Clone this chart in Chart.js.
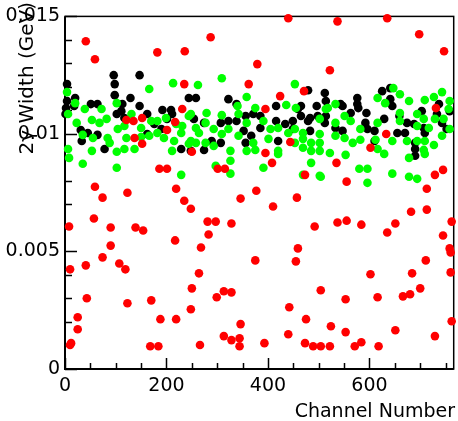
<!DOCTYPE html>
<html>
<head>
<meta charset="utf-8">
<script src="https://cdn.jsdelivr.net/npm/chart.js@4.4.1/dist/chart.umd.min.js"></script>
<style>
  html, body { margin: 0; padding: 0; background: #fff; }
  #wrap { width: 458px; height: 421px; }
</style>
</head>
<body>
<div id="wrap"><canvas id="widthChart" width="458" height="421"></canvas></div>
<script>
// Axis ranges and ticks
const xRange = [0, 766];
const yRange = [0, 0.015];
const xTickValues = [0, 200, 400, 600];
const xTickLabels = ['0', '200', '400', '600'];
const yTickValues = [0, 0.005, 0.01, 0.015];
const yTickLabels = ['0', '0.005', '0.01', '0.015'];

// Black points
const blackX = [4, 1, 20, 18, 96, 98, 98, 147, 51, 64, 113, 129, 147, 31, 33, 45, 64, 78, 111, 102,
  117, 162, 192, 209, 211, 176, 201, 244, 229, 248, 190, 162, 258, 322, 338, 416, 465, 479, 496, 254,
  274, 307, 322, 338, 356, 371, 385, 416, 434, 449, 465, 479, 356, 367, 385, 274, 289, 307, 352, 420,
  449, 483, 483, 459, 498, 512, 514, 514, 512, 547, 576, 576, 594, 563, 533, 547, 592, 596, 610, 610,
  625, 641, 641, 645, 629, 659, 655, 670, 674, 688, 703, 707, 709, 737, 743, 733, 690, 690, 690, 758,
  752, 543, 578, 4, 2];
const blackY = [0.01212, 0.01085, 0.01153, 0.01119, 0.01250, 0.01212, 0.01165, 0.01250, 0.01127, 0.01127,
  0.01127, 0.01153, 0.01119, 0.01017, 0.00970, 0.01004, 0.00996, 0.00936, 0.01097, 0.01085,
  0.01068, 0.01085, 0.01102, 0.01102, 0.01085, 0.01042, 0.01064, 0.01153, 0.00936, 0.00928,
  0.01021, 0.01000, 0.01153, 0.01148, 0.01127, 0.01119, 0.01119, 0.01186, 0.01119, 0.01064,
  0.01047, 0.01047, 0.01055, 0.01055, 0.01076, 0.01085, 0.01076, 0.01055, 0.01042, 0.01055,
  0.01076, 0.01055, 0.00962, 0.00992, 0.01025, 0.00932, 0.00970, 0.00962, 0.01013, 0.00970,
  0.01021, 0.01013, 0.01068, 0.01106, 0.01076, 0.01174, 0.01140, 0.01076, 0.01047, 0.01119,
  0.01153, 0.01127, 0.01089, 0.01089, 0.01025, 0.01013, 0.01047, 0.01021, 0.01013, 0.00970,
  0.01182, 0.01195, 0.01148, 0.01119, 0.01064, 0.01076, 0.01004, 0.01004, 0.01047, 0.01042,
  0.01097, 0.01025, 0.01004, 0.01127, 0.01047, 0.01085, 0.00936, 0.00962, 0.00907, 0.01097,
  0.01021, 0.01127, 0.01110, 0.01140, 0.01110];

// Green points
const greenX = [4, 6, 20, 23, 6, 8, 39, 53, 35, 55, 53, 72, 68, 82, 84, 88, 102, 104, 102, 102,
  117, 121, 117, 131, 137, 150, 150, 166, 170, 166, 182, 182, 199, 195, 213, 219, 215, 211, 231, 229,
  248, 248, 229, 35, 309, 262, 453, 358, 375, 436, 455, 340, 342, 244, 279, 309, 277, 258, 293, 264,
  322, 342, 358, 391, 405, 420, 440, 453, 469, 502, 514, 258, 277, 293, 309, 326, 371, 375, 401, 420,
  358, 453, 469, 469, 485, 502, 485, 326, 297, 391, 244, 326, 485, 502, 469, 420, 647, 660, 616, 631,
  678, 709, 727, 743, 758, 756, 746, 729, 518, 533, 551, 563, 533, 582, 616, 660, 660, 694, 707, 694,
  717, 502, 502, 522, 533, 551, 567, 582, 612, 616, 629, 645, 674, 694, 709, 678, 707, 727, 743, 758,
  580, 596, 504, 596, 645, 678, 694, 553, 709];
const greenY = [0.01178, 0.01085, 0.01131, 0.01047, 0.00936, 0.00898, 0.01106, 0.01059, 0.00996, 0.00983,
  0.00928, 0.01106, 0.01047, 0.01064, 0.00983, 0.00962, 0.01131, 0.01021, 0.00924, 0.00856,
  0.01034, 0.00983, 0.00936, 0.01085, 0.00936, 0.01025, 0.00987, 0.01191, 0.01055, 0.00992,
  0.01055, 0.01004, 0.01068, 0.00983, 0.01216, 0.01042, 0.00970, 0.00928, 0.01034, 0.01004,
  0.01085, 0.00970, 0.00826, 0.00873, 0.01237, 0.01208, 0.01212, 0.01157, 0.01110, 0.01123,
  0.01110, 0.01119, 0.01085, 0.01076, 0.01089, 0.01080, 0.01047, 0.01025, 0.01021, 0.01004,
  0.01021, 0.00992, 0.01047, 0.01055, 0.01021, 0.01025, 0.01004, 0.01021, 0.01004, 0.01064,
  0.01106, 0.00962, 0.00962, 0.00949, 0.01000, 0.00928, 0.00962, 0.00932, 0.00979, 0.00928,
  0.00928, 0.00962, 0.00979, 0.00941, 0.00962, 0.00928, 0.00928, 0.00886, 0.00864, 0.00856,
  0.00958, 0.00831, 0.00877, 0.00822, 0.00826, 0.00915, 0.01195, 0.01169, 0.01153, 0.01131,
  0.01140, 0.01144, 0.01157, 0.01178, 0.01140, 0.01106, 0.01064, 0.01064, 0.01110, 0.01127,
  0.01076, 0.01055, 0.01047, 0.01021, 0.01047, 0.01089, 0.01055, 0.01085, 0.01064, 0.01034,
  0.01025, 0.01000, 0.00962, 0.00919, 0.00992, 0.00983, 0.00962, 0.00975, 0.00975, 0.00936,
  0.00915, 0.00970, 0.00970, 0.00970, 0.00970, 0.00898, 0.00932, 0.00953, 0.00992, 0.01021,
  0.00852, 0.00852, 0.00818, 0.00792, 0.00831, 0.00818, 0.00809, 0.00911, 0.00915];

// Red points
const redX = [41, 59, 182, 236, 287, 440, 537, 635, 698, 747, 522, 471, 731, 633, 379, 362, 424, 235, 231, 395,
  121, 135, 152, 217, 201, 137, 152, 444, 395, 408, 250, 186, 201, 301, 315, 602, 535, 745, 473, 555,
  729, 59, 74, 123, 219, 235, 248, 377, 346, 457, 410, 713, 682, 713, 57, 8, 90, 139, 154, 217,
  90, 281, 297, 328, 492, 283, 268, 459, 762, 537, 555, 584, 651, 635, 745, 758, 10, 41, 74, 107,
  119, 43, 123, 25, 25, 10, 170, 188, 219, 250, 248, 168, 184, 375, 455, 264, 299, 313, 328, 504,
  442, 475, 346, 313, 328, 344, 344, 266, 393, 440, 473, 489, 504, 760, 711, 602, 760, 684, 553, 616,
  666, 680, 700, 524, 553, 651, 762, 729, 522, 571, 584, 618, 12];
const redY = [0.01394, 0.01318, 0.01347, 0.01352, 0.01411, 0.01492, 0.01479, 0.01492, 0.01424, 0.01352,
  0.01271, 0.01182, 0.01110, 0.01000, 0.01297, 0.01212, 0.01161, 0.01212, 0.01106, 0.01106,
  0.01059, 0.01055, 0.01068, 0.01051, 0.01017, 0.00983, 0.00958, 0.00966, 0.00919, 0.00877,
  0.00924, 0.00852, 0.00852, 0.00852, 0.00852, 0.00941, 0.00877, 0.00847, 0.00826, 0.00797,
  0.00826, 0.00775, 0.00729, 0.00750, 0.00767, 0.00716, 0.00682, 0.00758, 0.00725, 0.00729,
  0.00691, 0.00767, 0.00669, 0.00678, 0.00640, 0.00606, 0.00602, 0.00602, 0.00589, 0.00547,
  0.00525, 0.00627, 0.00627, 0.00619, 0.00606, 0.00572, 0.00517, 0.00513, 0.00627, 0.00623,
  0.00631, 0.00614, 0.00619, 0.00581, 0.00568, 0.00513, 0.00424, 0.00441, 0.00475, 0.00449,
  0.00424, 0.00301, 0.00280, 0.00220, 0.00169, 0.00102, 0.00292, 0.00212, 0.00212, 0.00343,
  0.00254, 0.00097, 0.00097, 0.00462, 0.00458, 0.00407, 0.00305, 0.00331, 0.00326, 0.00335,
  0.00263, 0.00212, 0.00191, 0.00140, 0.00123, 0.00131, 0.00097, 0.00102, 0.00110, 0.00148,
  0.00110, 0.00097, 0.00097, 0.00496, 0.00462, 0.00403, 0.00411, 0.00407, 0.00297, 0.00305,
  0.00309, 0.00318, 0.00343, 0.00182, 0.00157, 0.00165, 0.00203, 0.00140, 0.00097, 0.00097,
  0.00114, 0.00097, 0.00110];

const toPoints = (xs, ys) => xs.map((x, i) => ({ x: x, y: ys[i] }));
const FONT = 'DejaVu Sans';

// ROOT style frame, inward ticks and axis titles
const rootFrame = {
    id: 'rootFrame',
    beforeDatasetsDraw(chart) {
        const { ctx, chartArea: a, scales: { x, y } } = chart;
        ctx.save();
        ctx.strokeStyle = '#000';
        ctx.lineWidth = 1.5;
        ctx.strokeRect(a.left, a.top, a.right - a.left, a.bottom - a.top);
        ctx.lineWidth = 2;
        ctx.beginPath();
        ctx.moveTo(a.left, a.top);
        ctx.lineTo(a.left, a.bottom);
        ctx.lineTo(a.right, a.bottom);
        ctx.stroke();

        ctx.lineWidth = 1.5;
        ctx.beginPath();
        for (let v = 0; v <= xRange[1]; v += 50) {
            const px = Math.round(x.getPixelForValue(v)) + 0.5;
            const len = v % 200 === 0 ? 11 : 6;
            ctx.moveTo(px, a.bottom);
            ctx.lineTo(px, a.bottom - len);
        }
        for (let k = 0; k <= 15; k++) {
            const py = Math.round(y.getPixelForValue(k * 0.001)) + 0.5;
            const len = k % 5 === 0 ? 12 : 7;
            ctx.moveTo(a.left, py);
            ctx.lineTo(a.left + len, py);
        }
        ctx.stroke();

        ctx.fillStyle = '#000';
        ctx.font = '19px "' + FONT + '"';
        ctx.textAlign = 'right';
        ctx.textBaseline = 'alphabetic';
        ctx.fillText('Channel Number', 455, 417);

        ctx.translate(33, 2);
        ctx.rotate(-Math.PI / 2);
        ctx.font = '20px "' + FONT + '"';
        ctx.fillText('2\u03b3 Width (GeV)', 0, 0);
        ctx.restore();
    }
};

const ctx = document.getElementById('widthChart').getContext('2d');
new Chart(ctx, {
    type: 'scatter',
    data: {
        datasets: [
            { label: 'red', data: toPoints(redX, redY), backgroundColor: '#ff0000' },
            { label: 'green', data: toPoints(greenX, greenY), backgroundColor: '#00ff00' },
            { label: 'black', data: toPoints(blackX, blackY), backgroundColor: '#000000' }
        ]
    },
    options: {
        responsive: false,
        animation: false,
        clip: false,
        layout: { padding: { top: 15, right: 1, left: 0, bottom: 0 } },
        elements: { point: { radius: 4.3, borderWidth: 0, hoverRadius: 4.3 } },
        plugins: { legend: { display: false }, tooltip: { enabled: false } },
        scales: {
            x: {
                type: 'linear',
                min: xRange[0],
                max: xRange[1],
                grid: { display: false, drawTicks: false },
                border: { display: false },
                afterBuildTicks: (s) => { s.ticks = xTickValues.map(v => ({ value: v })); },
                afterFit: (s) => { s.height = 52; },
                ticks: {
                    color: '#000',
                    font: { family: FONT, size: 19 },
                    padding: 6,
                    maxRotation: 0,
                    autoSkip: false,
                    callback: (v, i) => xTickLabels[i]
                }
            },
            y: {
                type: 'linear',
                min: yRange[0],
                max: yRange[1],
                grid: { display: false, drawTicks: false },
                border: { display: false },
                afterBuildTicks: (s) => { s.ticks = yTickValues.map(v => ({ value: v })); },
                afterFit: (s) => { s.width = 65; },
                ticks: {
                    color: '#000',
                    font: { family: FONT, size: 19 },
                    padding: 5,
                    autoSkip: false,
                    callback: (v, i) => yTickLabels[i]
                }
            }
        }
    },
    plugins: [rootFrame]
});
</script>
</body>
</html>
